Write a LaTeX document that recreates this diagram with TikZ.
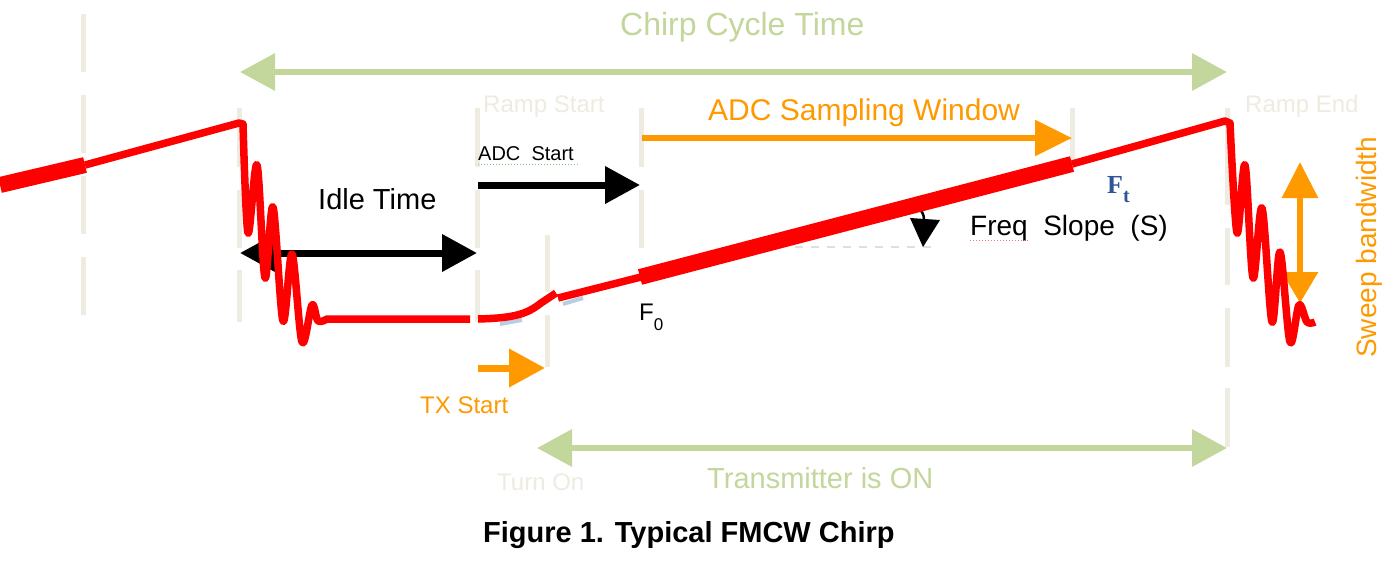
\documentclass[tikz,border=0pt]{standalone}
\usepackage{fontspec}
\setmainfont{Liberation Sans}
\newfontfamily\serifbold{Liberation Serif}
\usetikzlibrary{arrows.meta}
\definecolor{guide}{HTML}{EEECE1}
\definecolor{guidedk}{HTML}{E2E0D2}
\definecolor{lgreen}{HTML}{C3D69B}
\definecolor{orng}{HTML}{FF9900}
\definecolor{ftblue}{HTML}{2F5597}
\definecolor{lblue}{HTML}{B9CDE5}
\definecolor{sqgreen}{HTML}{7CC47C}
\definecolor{sqred}{HTML}{E87878}
\tikzset{BigHead/.tip={Triangle[length=35pt,width=36pt]}}
\begin{document}
\begin{tikzpicture}[x=1pt,y=-1pt,
  guideline/.style={draw=guide,line width=5pt},
  lbl/.style={inner sep=0pt,anchor=base west},
  fsA/.style={font=\fontsize{32}{38}\selectfont},
  fsB/.style={font=\fontsize{30}{36}\selectfont},
  fsC/.style={font=\fontsize{29}{35}\selectfont},
  fsD/.style={font=\fontsize{28}{34}\selectfont},
  fsE/.style={font=\fontsize{24}{29}\selectfont},
  fsF/.style={font=\fontsize{20}{24}\selectfont},
  chirpline/.style={draw=red,line width=7.5pt,line join=round},
  chirpthick/.style={draw=red,line width=16pt},
  greenarrow/.style={draw=lgreen,fill=lgreen,line width=6.5pt},
  blackarrow/.style={draw=black,fill=black,line width=7pt},
  orangearrow/.style={draw=orng,fill=orng,line width=6pt}
]
\useasboundingbox (0,0) rectangle (1392,560);
\fill[white] (0,0) rectangle (1392,560);

% dashed guide lines
\foreach \a/\b in {14/72,95/153,176/234,257/315} \draw[guideline] (83,\a) -- (83,\b);
\foreach \a/\b in {108/167,190/248,270/322} \draw[guideline] (239,\a) -- (239,\b);
\foreach \a/\b in {108/167,190/248,270/322} \draw[guideline] (477,\a) -- (477,\b);
\foreach \a/\b in {235/292,315/367} \draw[guideline] (547,\a) -- (547,\b);
\foreach \a/\b in {108/167,190/248} \draw[guideline] (641,\a) -- (641,\b);
\draw[guideline] (1072,108) -- (1072,166);
\foreach \a/\b in {108/205,228/285,308/367,388/447} \draw[guideline] (1227,\a) -- (1227,\b);
\draw[guidedk,line width=2pt,dash pattern=on 8pt off 8pt] (795,247) -- (938,247);

% labels in faint colour
\node[lbl,fsE,text=guide] (rs) at (483,112) {Ramp Start};
\node[lbl,fsE,text=guide] (re) at (1245,112) {Ramp End};
\node[lbl,fsE,text=guide] (to) at (497,490) {Turn On};

% chirp cycle time
\node[lbl,fsA,text=lgreen] (cct) at (620,35) {Chirp Cycle Time};
\coordinate (cctL) at (240,72); \coordinate (cctR) at (1227,72);
\draw[greenarrow,BigHead-BigHead] (cctL) -- (cctR);

% ADC sampling window
\node[lbl,fsB,text=orng] (adcw) at (708,120) {ADC Sampling Window};
\coordinate (adcwL) at (642,138); \coordinate (adcwR) at (1072,138);
\draw[orangearrow,line width=5.5pt,-{Triangle[length=37pt,width=35pt]}] (adcwL) -- (adcwR);

% ADC start
\node[lbl,fsF] (adcs) at (478,160) {ADC\ \ Start};
\draw[sqgreen,line width=1pt,dotted] (478,164) -- (578,164);
\coordinate (adcsL) at (478,185); \coordinate (adcsR) at (640,185);
\draw[blackarrow,-BigHead] (adcsL) -- (adcsR);

% idle time
\node[lbl,fsC] (idle) at (318,209) {Idle Time};
\coordinate (idleL) at (240,253); \coordinate (idleR) at (477,253);
\draw[blackarrow,BigHead-BigHead] (idleL) -- (idleR);

% TX start
\node[lbl,fsE,text=orng] (txs) at (420,413) {TX Start};
\coordinate (txL) at (478,368); \coordinate (txR) at (545,368);
\draw[orangearrow,line width=7pt,-{Triangle[length=36pt,width=37pt]}] (txL) -- (txR);

% transmitter is on
\node[lbl,fsC,text=lgreen] (txon) at (707,488) {Transmitter\ is\ ON};
\coordinate (txonL) at (537,448); \coordinate (txonR) at (1227,448);
\draw[greenarrow,BigHead-BigHead] (txonL) -- (txonR);

% sweep bandwidth
\node[lbl,fsD,text=orng,rotate=90] (sweep) at (1376,358) {Sweep\ bandwidth};
\coordinate (swT) at (1300,162); \coordinate (swB) at (1300,303);
\draw[orangearrow,{Triangle[length=31pt,width=35pt]}-{Triangle[length=36pt,width=35pt]}] (swB) -- (swT);

% freq slope
\node[lbl,fsD] (slope) at (970,235) {Freq\ \ Slope\ \ (S)};
\draw[sqred,line width=1pt,dotted] (970,240) -- (1028,240);
\coordinate (slT) at (918,208); \coordinate (slM) at (924,219); \coordinate (slTip) at (923,247);
\draw[line width=2.5pt] (slT) to[bend left=25] (slM);
\fill (910,218) -- (940,220) -- (slTip) -- cycle;

% F0 and Ft
\node[lbl,fsE] (f0) at (639,320) {F\raisebox{-10pt}{\fontsize{17}{20}\selectfont 0}};
\node[lbl,text=ftblue,font=\serifbold\bfseries\fontsize{26}{30}\selectfont] (ft) at (1107,193) {F\raisebox{-9pt}{\fontsize{20}{24}\selectfont t}};

% light blue artefacts under the chirp
\draw[lblue,line width=4pt] (500,324) -- (522,320);
\draw[lblue,line width=4pt] (563,304) -- (583,298);

% chirp trace
\draw[chirpthick] (0,185) -- (85,165);
\draw[chirpline] (85,165) -- (239,123) -- (243,124) -- plot[smooth,tension=0.55] coordinates {(243,124) (248,233) (257,165) (265,278) (273,207) (283,321) (292,254) (302,342) (312,305) (318,321) (327,319)} -- (470,319);
\draw[chirpline] (478,319) .. controls (515,318) and (527,314) .. (541,303) -- (556,293);
\draw[chirpline] (558,298) -- (641,277);
\draw[chirpthick] (640,277) -- (1072,164);
\draw[chirpline] (1072,164) -- (1225,121) -- (1230,123) -- plot[smooth,tension=0.55] coordinates {(1230,123) (1237,233) (1245,165) (1253,278) (1262,208) (1272,322) (1280,252) (1290,342) (1299,305) (1307,322) (1315,322)};

% caption
\node[lbl,font=\bfseries\fontsize{29}{34}\selectfont] (cap) at (483,542) {Figure 1. Typical FMCW Chirp};
\end{tikzpicture}
\end{document}
